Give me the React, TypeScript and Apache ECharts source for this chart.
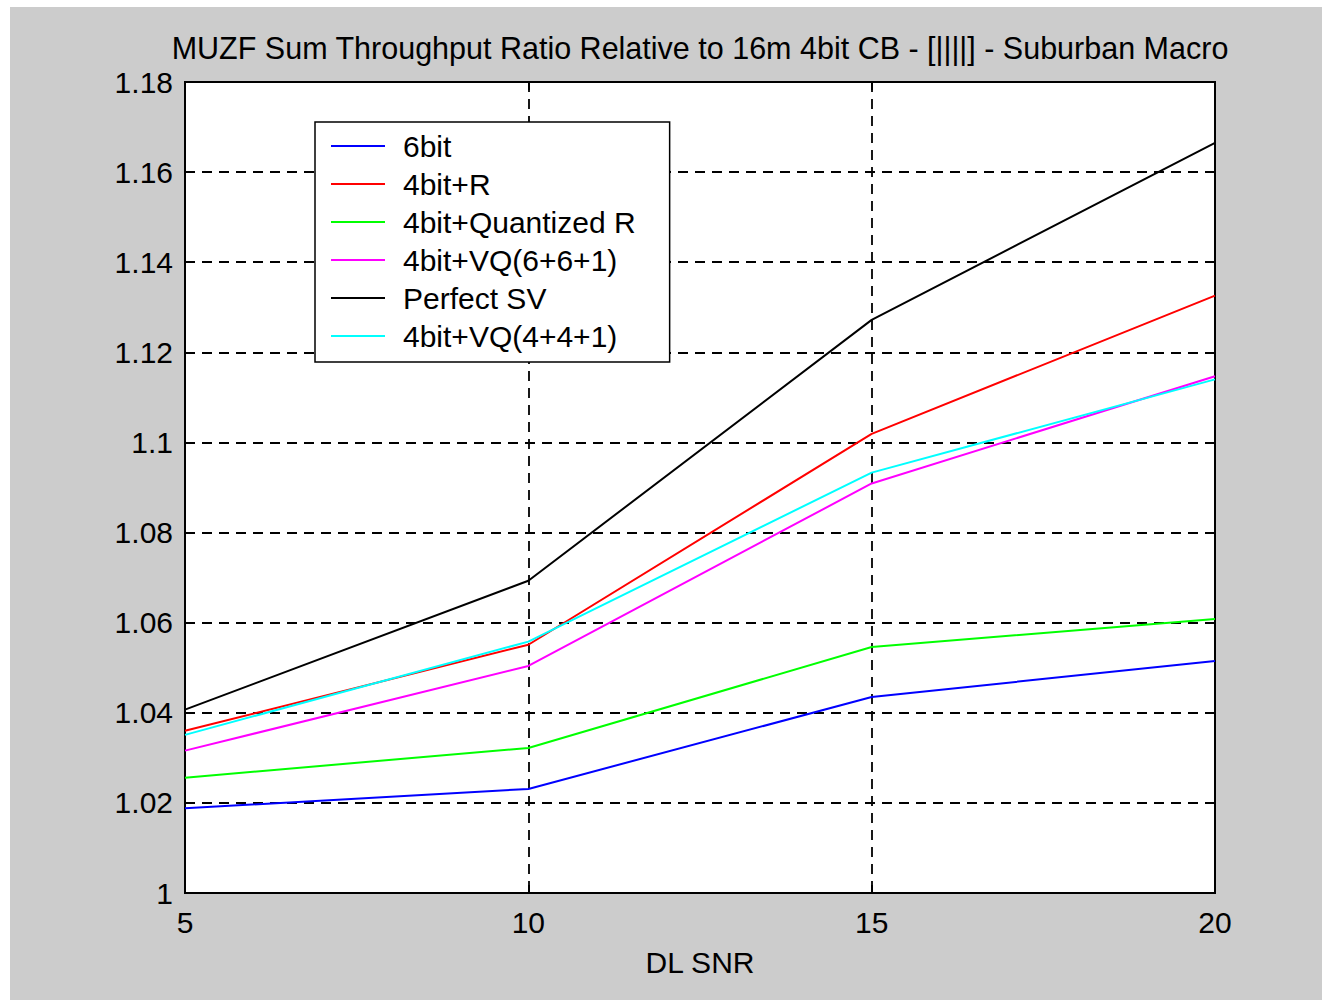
import React, { useEffect, useRef } from "react";
import * as echarts from "echarts";

const snr = [5, 10, 15, 20];
const seriesNames = ["6bit", "4bit+R", "4bit+Quantized R", "4bit+VQ(6+6+1)", "Perfect SV", "4bit+VQ(4+4+1)"];
const seriesColors = ["#0000ff", "#ff0000", "#00ff00", "#ff00ff", "#000000", "#00ffff"];
const bit6 = [1.0188, 1.0231, 1.0435, 1.0515];
const bit4R = [1.036, 1.0551, 1.1019, 1.1326];
const bit4QR = [1.0256, 1.0322, 1.0546, 1.0608];
const vq661 = [1.0316, 1.0504, 1.0909, 1.1147];
const perfectSV = [1.0407, 1.0693, 1.1272, 1.1665];
const vq441 = [1.0351, 1.0558, 1.0933, 1.114];
const seriesValues = [bit6, bit4R, bit4QR, vq661, perfectSV, vq441];

const FONT = "'Liberation Sans', Arial, sans-serif";
const FS = 30;

export default function App() {
  const ref = useRef<HTMLDivElement>(null);
  useEffect(() => {
    if (!ref.current) return;
    const chart = echarts.init(ref.current, undefined, { renderer: "svg" });
    const gridLine = { show: true, lineStyle: { color: "#000", width: 1.8, type: [10, 7] as any } };
    const fmt = (v: number) => String(parseFloat(v.toFixed(2)));
    chart.setOption({
      animation: false,
      backgroundColor: "#cccccc",
      textStyle: { fontFamily: FONT, color: "#000" },
      title: {
        text: "MUZF Sum Throughput Ratio Relative to 16m 4bit CB - [||||] - Suburban Macro",
        left: 685,
        textAlign: "center",
        top: 20,
        textStyle: { fontFamily: FONT, fontSize: 30.5, fontWeight: "normal", color: "#000" },
      },
      grid: {
        left: 175,
        top: 75,
        right: 107,
        bottom: 107,
        show: true,
        backgroundColor: "#ffffff",
        borderColor: "#000",
        borderWidth: 2,
      },
      legend: {
        orient: "vertical",
        left: 305,
        top: 115,
        data: seriesNames.map((n) => ({ name: n, icon: "rect" })),
        backgroundColor: "#ffffff",
        borderColor: "#000",
        borderWidth: 1.5,
        padding: [9, 34, 11, 16],
        itemWidth: 54,
        itemHeight: 2,
        itemGap: 8,
        textStyle: { fontFamily: FONT, fontSize: FS, color: "#000", lineHeight: 30, padding: [0, 0, 0, 13] },
      },
      xAxis: [
        {
          type: "value",
          min: 5,
          max: 20,
          interval: 5,
          name: "DL SNR",
          nameLocation: "middle",
          nameGap: 54,
          nameTextStyle: { fontFamily: FONT, fontSize: FS, color: "#000" },
          axisLine: { show: true, lineStyle: { color: "#000", width: 2 } },
          axisTick: { show: true, inside: true, length: 8, lineStyle: { color: "#000", width: 2 } },
          axisLabel: { fontFamily: FONT, fontSize: FS, color: "#000", margin: 14 },
          splitLine: gridLine,
        },
        {
          type: "value",
          position: "top",
          min: 5,
          max: 20,
          interval: 5,
          axisLine: { show: true, lineStyle: { color: "#000", width: 2 } },
          axisTick: { show: true, inside: true, length: 8, lineStyle: { color: "#000", width: 2 } },
          axisLabel: { show: false },
          splitLine: { show: false },
        },
      ],
      yAxis: [
        {
          type: "value",
          min: 1,
          max: 1.18,
          interval: 0.02,
          axisLine: { show: true, lineStyle: { color: "#000", width: 2 } },
          axisTick: { show: true, inside: true, length: 8, lineStyle: { color: "#000", width: 2 } },
          axisLabel: { fontFamily: FONT, fontSize: FS, color: "#000", margin: 12, formatter: fmt },
          splitLine: gridLine,
        },
        {
          type: "value",
          position: "right",
          min: 1,
          max: 1.18,
          interval: 0.02,
          axisLine: { show: true, lineStyle: { color: "#000", width: 2 } },
          axisTick: { show: true, inside: true, length: 8, lineStyle: { color: "#000", width: 2 } },
          axisLabel: { show: false },
          splitLine: { show: false },
        },
      ],
      series: seriesNames.map((name, i) => ({
        name,
        type: "line",
        symbol: "none",
        showSymbol: false,
        color: seriesColors[i],
        lineStyle: { color: seriesColors[i], width: 2 },
        data: snr.map((x, j) => [x, seriesValues[i][j]]),
      })),
    });
    return () => chart.dispose();
  }, []);
  return (
    <div style={{ position: "absolute", left: 0, top: 0, width: 1322, height: 1000, background: "#ffffff" }}>
      <div ref={ref} style={{ position: "absolute", left: 10, top: 7, width: 1312, height: 993 }} />
    </div>
  );
}
